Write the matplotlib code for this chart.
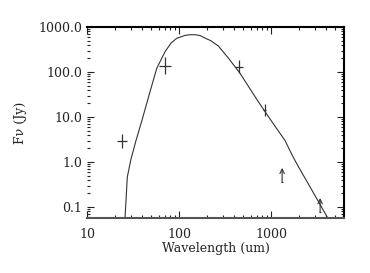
import matplotlib
matplotlib.use("Agg")
import matplotlib.pyplot as plt
from matplotlib.ticker import FixedLocator, FixedFormatter, LogLocator, NullFormatter

# model curve
model_wl = [25.9, 27.4, 29.9, 33.8, 39.9, 48.4, 57.3, 70.5, 82, 94.4, 116, 132, 150,
            169, 192, 220, 267, 343, 460, 670, 861, 1100, 1419, 1700, 1982, 2770, 4197]
model_flux = [0.057, 0.46, 1.11, 2.83, 9.0, 36.5, 121, 283, 440, 561, 650, 675, 672,
              647, 565, 500, 380, 205, 93.5, 28.3, 13.1, 6.3, 3.0, 1.4, 0.787, 0.239, 0.054]

# photometry points
obs_wl = [24, 70, 450, 850]
obs_flux = [2.97, 138, 131, 14.3]
obs_flux_lo = [0.90, 48.7, 37, 3.8]
obs_flux_hi = [1.28, 75, 51.5, 5.1]
obs_wl_lo = [2.6, 9.7, 43, 30]
obs_wl_hi = [2.9, 11.3, 47, 32]

# lower limits (arrows)
lim_wl = [1318, 3412]
lim_base = [0.36, 0.077]
lim_tip = [0.74, 0.158]
lim_wl_err = [45, 110]

y_ticks = [0.1, 1.0, 10.0, 100.0, 1000.0]
y_labels = ["0.1", "1.0", "10.0", "100.0", "1000.0"]
x_ticks = [10, 100, 1000]
x_labels = ["10", "100", "1000"]

plt.rcParams['font.family'] = ['DejaVu Serif']

fig = plt.figure(figsize=(3.7, 2.73), dpi=100)
ax = fig.add_axes([87/370, 1-218/273, (344-87)/370, (218-27)/273])

ax.plot(model_wl, model_flux, color='#333333', lw=0.8)
ax.errorbar(obs_wl, obs_flux, yerr=[obs_flux_lo, obs_flux_hi],
            xerr=[obs_wl_lo, obs_wl_hi], fmt='none', ecolor='#333333',
            elinewidth=0.9, capsize=0)
for w, b, t, e in zip(lim_wl, lim_base, lim_tip, lim_wl_err):
    ax.annotate('', xy=(w, t), xytext=(w, b),
                arrowprops=dict(arrowstyle='->', color='#333333', lw=0.8,
                                shrinkA=0, shrinkB=0, mutation_scale=8))
    ax.errorbar([w], [b], xerr=[[e], [e]], fmt='none', ecolor='#333333',
                elinewidth=0.8, capsize=0)

ax.set_xscale('log')
ax.set_yscale('log')
ax.set_xlim(10, 6200)
ax.set_ylim(0.057, 1000)

ax.xaxis.set_major_locator(FixedLocator(x_ticks))
ax.xaxis.set_major_formatter(FixedFormatter(x_labels))
ax.yaxis.set_major_locator(FixedLocator(y_ticks))
ax.yaxis.set_major_formatter(FixedFormatter(y_labels))
ax.xaxis.set_minor_locator(LogLocator(base=10, subs=range(2, 10)))
ax.yaxis.set_minor_locator(LogLocator(base=10, subs=range(2, 10)))
ax.xaxis.set_minor_formatter(NullFormatter())
ax.yaxis.set_minor_formatter(NullFormatter())

ax.tick_params(which='both', direction='in', top=True, right=True,
               labelsize=9, colors='#222222')
ax.tick_params(which='major', length=5, width=0.8)
ax.tick_params(which='minor', length=2.5, width=0.8)
ax.tick_params(axis='x', pad=7)

ax.spines['left'].set_visible(False)
ax.spines['top'].set_linewidth(1.5)
ax.spines['right'].set_linewidth(1.5)
ax.spines['bottom'].set_linewidth(1.5)
ax.spines['bottom'].set_color('#555555')

ax.set_xlabel('Wavelength (um)', fontsize=9, color='#222222', labelpad=1)
ax.set_ylabel('F\u03bd (Jy)', fontsize=9, color='#222222', labelpad=8)

fig.savefig('out.png', dpi=100)
